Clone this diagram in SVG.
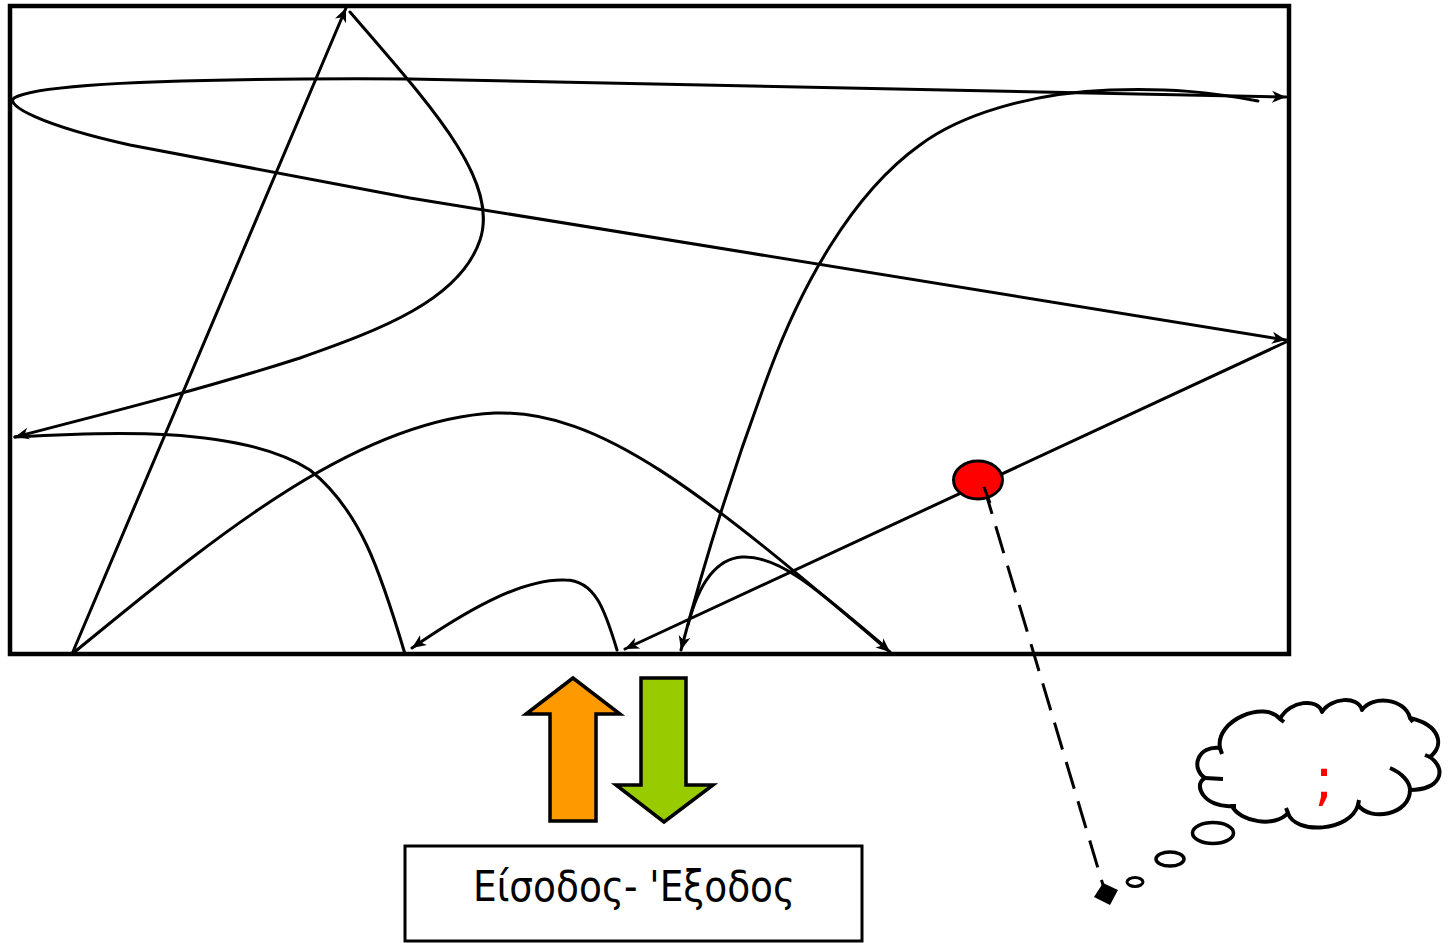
<svg xmlns="http://www.w3.org/2000/svg" width="1450" height="943" viewBox="0 0 1450 943">
<style>
.c{fill:none;stroke:#000;stroke-width:3;stroke-linejoin:round;stroke-linecap:round}
.a{marker-end:url(#ah)}
.lbl{font-family:"DejaVu Sans","Noto Sans",sans-serif;font-size:42px;fill:#000}
</style>
<defs>
<marker id="ah" markerUnits="userSpaceOnUse" markerWidth="16" markerHeight="14" refX="14" refY="6" orient="auto-start-reverse" viewBox="0 0 16 12">
<path d="M0,0 L14,6 L0,12 L4,6 Z" fill="#000"/>
</marker>
</defs>
<rect width="1450" height="943" fill="#fff"/>
<g id="field">
<rect x="10" y="6" width="1279" height="648" fill="#fff" stroke="#000" stroke-width="4.5"/>
</g>
<g id="connectors">
<path class="c a" d="M72,654 L346,8"/>
<path class="c a" d="M350,12 C430,105 500,180 480,240 C460,300 380,330 300,358 C200,390 100,415 15,437"/>
<path class="c" d="M15,437 C100,432 240,425 310,470 C360,510 380,570 405,654"/>
<path class="c a" d="M72,654 C200,550 350,420 495,413 C600,410 700,490 890,652"/>
<path class="c" d="M884,646 C820,592 780,555 742,557 C712,559 697,590 688,625"/>
<path class="c a" d="M1258,101 C1210,92 1170,88 1110,90 C1030,93 960,115 920,145 C850,195 800,290 770,370 C740,450 710,540 681,650"/>
<path class="c a" style="marker-start:url(#ah)" d="M1286,97 L410,79 C200,78 40,82 14,98 C5,105 40,125 130,145 L410,198 L1286,340"/>
<path class="c a" d="M1286,342 L625,649"/>
<path class="c a" d="M617,650 C605,610 595,580 565,580 C520,578 460,615 412,648"/>
<path fill="none" stroke="#000" stroke-width="3" stroke-dasharray="28 13" d="M984,487 L1103,885"/>
</g>
<g id="ball">
<ellipse cx="978" cy="480" rx="24.5" ry="19" fill="#ff0000" stroke="#000" stroke-width="3"/>
<path d="M984,487 L990,503" stroke="#000" stroke-width="3"/>
</g>
<g id="marker-point">
<polygon points="1094,897 1103,883 1118,890 1110,905" fill="#000"/>
</g>
<g id="arrow-in">
<polygon points="573,678 526,714 550,714 550,821 596,821 596,714 620,714" fill="#ff9900" stroke="#000" stroke-width="3.5" stroke-linejoin="miter"/>
</g>
<g id="arrow-out">
<polygon points="641,678 686,678 686,785 713,785 664,822 616,785 641,785" fill="#99cc00" stroke="#000" stroke-width="3.5" stroke-linejoin="miter"/>
</g>
<g id="io-box">
<rect x="405" y="846" width="457" height="95" fill="#fff" stroke="#000" stroke-width="3"/>
<text class="lbl" x="634" y="901" text-anchor="middle" textLength="322" lengthAdjust="spacingAndGlyphs">Είσοδος- 'Εξοδος</text>
</g>
<g id="thought">
<ellipse cx="1213" cy="833" rx="20.5" ry="10.5" fill="#fff" stroke="#000" stroke-width="3.5"/>
<ellipse cx="1170" cy="859" rx="14" ry="7" fill="#fff" stroke="#000" stroke-width="3.5"/>
<ellipse cx="1135" cy="882" rx="8" ry="4.5" fill="#fff" stroke="#000" stroke-width="3"/>
<path fill="#fff" stroke="#000" stroke-width="4" stroke-linejoin="round" d="M1220,748 C1215,720 1265,700 1280,719 C1290,700 1318,698 1322,712 C1330,698 1358,695 1362,710 C1372,695 1405,698 1410,718 C1440,725 1445,745 1430,757 C1448,770 1440,790 1410,790 C1410,815 1370,822 1358,805 C1350,832 1295,835 1288,813 C1275,828 1240,822 1232,806 C1205,808 1192,785 1205,778 C1190,768 1198,745 1220,748 Z"/>
<path fill="none" stroke="#000" stroke-width="4" stroke-linecap="butt" d="M1390,768 C1402,773 1410,782 1410,790 M1223,779 L1205,778 M1220,748 L1222,754 M1280,719 L1284,722 M1410,718 L1413,722 M1430,757 L1425,755 M1358,805 L1359,800 M1288,813 L1286,808 M1232,806 L1236,806"/>
<text x="1324" y="799" text-anchor="middle" font-family="DejaVu Sans,sans-serif" font-size="58" fill="#ff0000">;</text>
</g>
</svg>
